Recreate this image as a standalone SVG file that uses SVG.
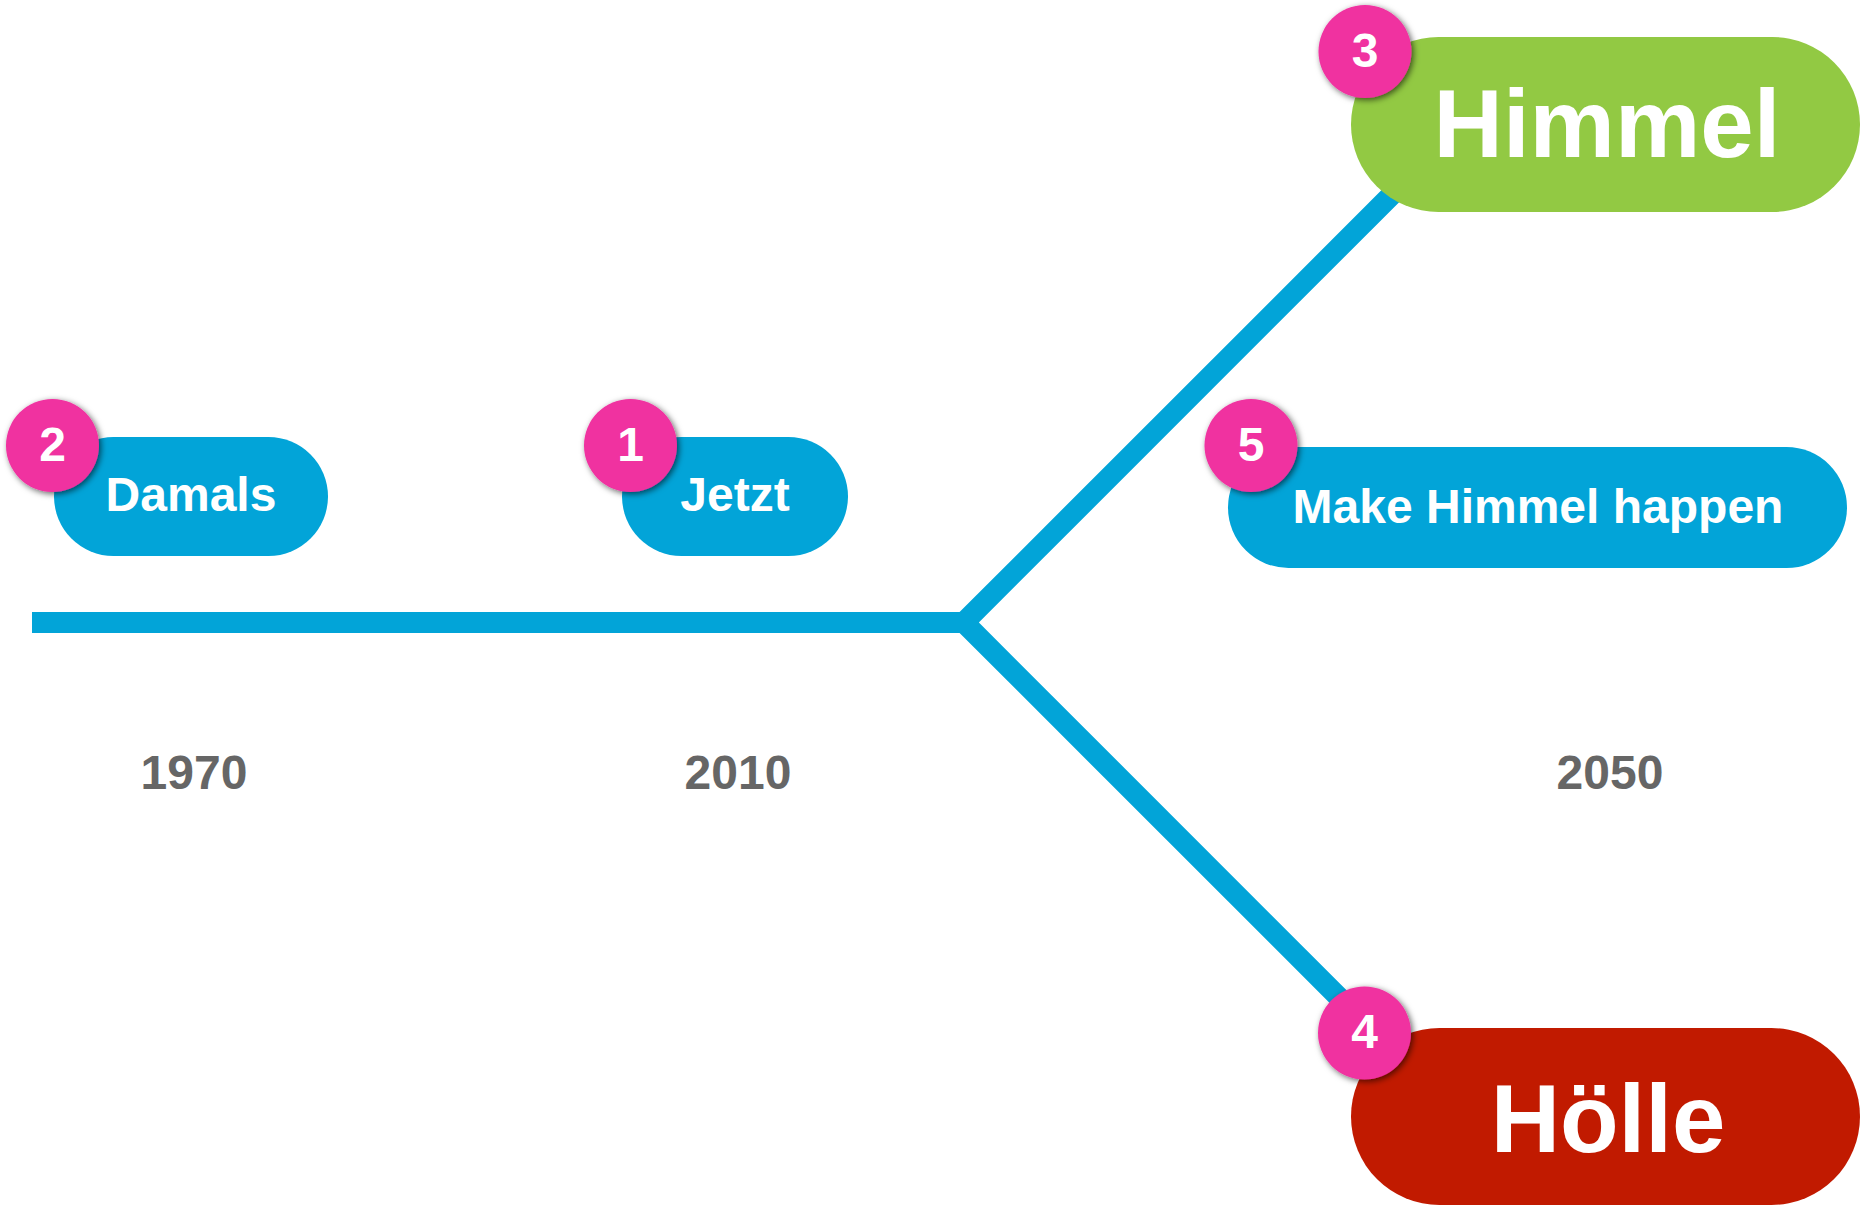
<svg xmlns="http://www.w3.org/2000/svg" width="1864" height="1206" viewBox="0 0 1864 1206">
  <style>
    .lbl { font-family: "Liberation Sans", Arial, sans-serif; font-weight: bold; fill: #ffffff; text-anchor: middle; }
    .year { font-family: "Liberation Sans", Arial, sans-serif; font-weight: bold; fill: #666666; text-anchor: middle; font-size: 48px; }
    .blue { fill: #02A4D8; }
    .badge { fill: #F030A0; filter: url(#sh); }
    .num { font-family: "Liberation Sans", Arial, sans-serif; font-weight: bold; fill: #ffffff; text-anchor: middle; font-size: 48px; }
  </style>
  <defs>
    <filter id="sh" x="-30%" y="-30%" width="160%" height="160%">
      <feDropShadow dx="2" dy="2" stdDeviation="3" flood-color="#000000" flood-opacity="0.6"/>
    </filter>
  </defs>
  <rect width="1864" height="1206" fill="#ffffff"/>

  <g id="connectors">
    <path d="M32,622.5 H964 L1400,186.5 M964,622.5 L1372,1030.5" fill="none" stroke="#02A4D8" stroke-width="21" stroke-linejoin="miter"/>
  </g>

  <g id="years">
    <text class="year" x="194" y="789">1970</text>
    <text class="year" x="738" y="789">2010</text>
    <text class="year" x="1610" y="789">2050</text>
  </g>

  <g id="damals">
    <rect class="blue" x="54" y="437" width="274" height="119" rx="59.5"/>
    <text class="lbl" x="191" y="511" font-size="48">Damals</text>
  </g>
  <g id="jetzt">
    <rect class="blue" x="622" y="437" width="226" height="119" rx="59.5"/>
    <text class="lbl" x="735" y="511" font-size="48">Jetzt</text>
  </g>
  <g id="make-himmel-happen">
    <rect class="blue" x="1228" y="447" width="619" height="121" rx="60.5"/>
    <text class="lbl" x="1538" y="523" font-size="48">Make Himmel happen</text>
  </g>
  <g id="himmel">
    <rect x="1351" y="37" width="509" height="175" rx="87.5" fill="#92C943"/>
    <text class="lbl" x="1607" y="157" font-size="96">Himmel</text>
  </g>
  <g id="hoelle">
    <rect x="1351" y="1028" width="509" height="177" rx="88.5" fill="#C11A00"/>
    <text class="lbl" x="1608" y="1152" font-size="96">Hölle</text>
  </g>

  <g id="badge-2">
    <circle class="badge" cx="52.5" cy="445.5" r="46.5"/>
    <text class="num" x="52.5" y="461">2</text>
  </g>
  <g id="badge-1">
    <circle class="badge" cx="630.5" cy="445.5" r="46.5"/>
    <text class="num" x="630.5" y="461">1</text>
  </g>
  <g id="badge-5">
    <circle class="badge" cx="1251" cy="445.5" r="46.5"/>
    <text class="num" x="1251" y="461">5</text>
  </g>
  <g id="badge-3">
    <circle class="badge" cx="1365" cy="51.5" r="46.5"/>
    <text class="num" x="1365" y="67">3</text>
  </g>
  <g id="badge-4">
    <circle class="badge" cx="1364.5" cy="1033" r="46.5"/>
    <text class="num" x="1364.5" y="1048">4</text>
  </g>
</svg>
